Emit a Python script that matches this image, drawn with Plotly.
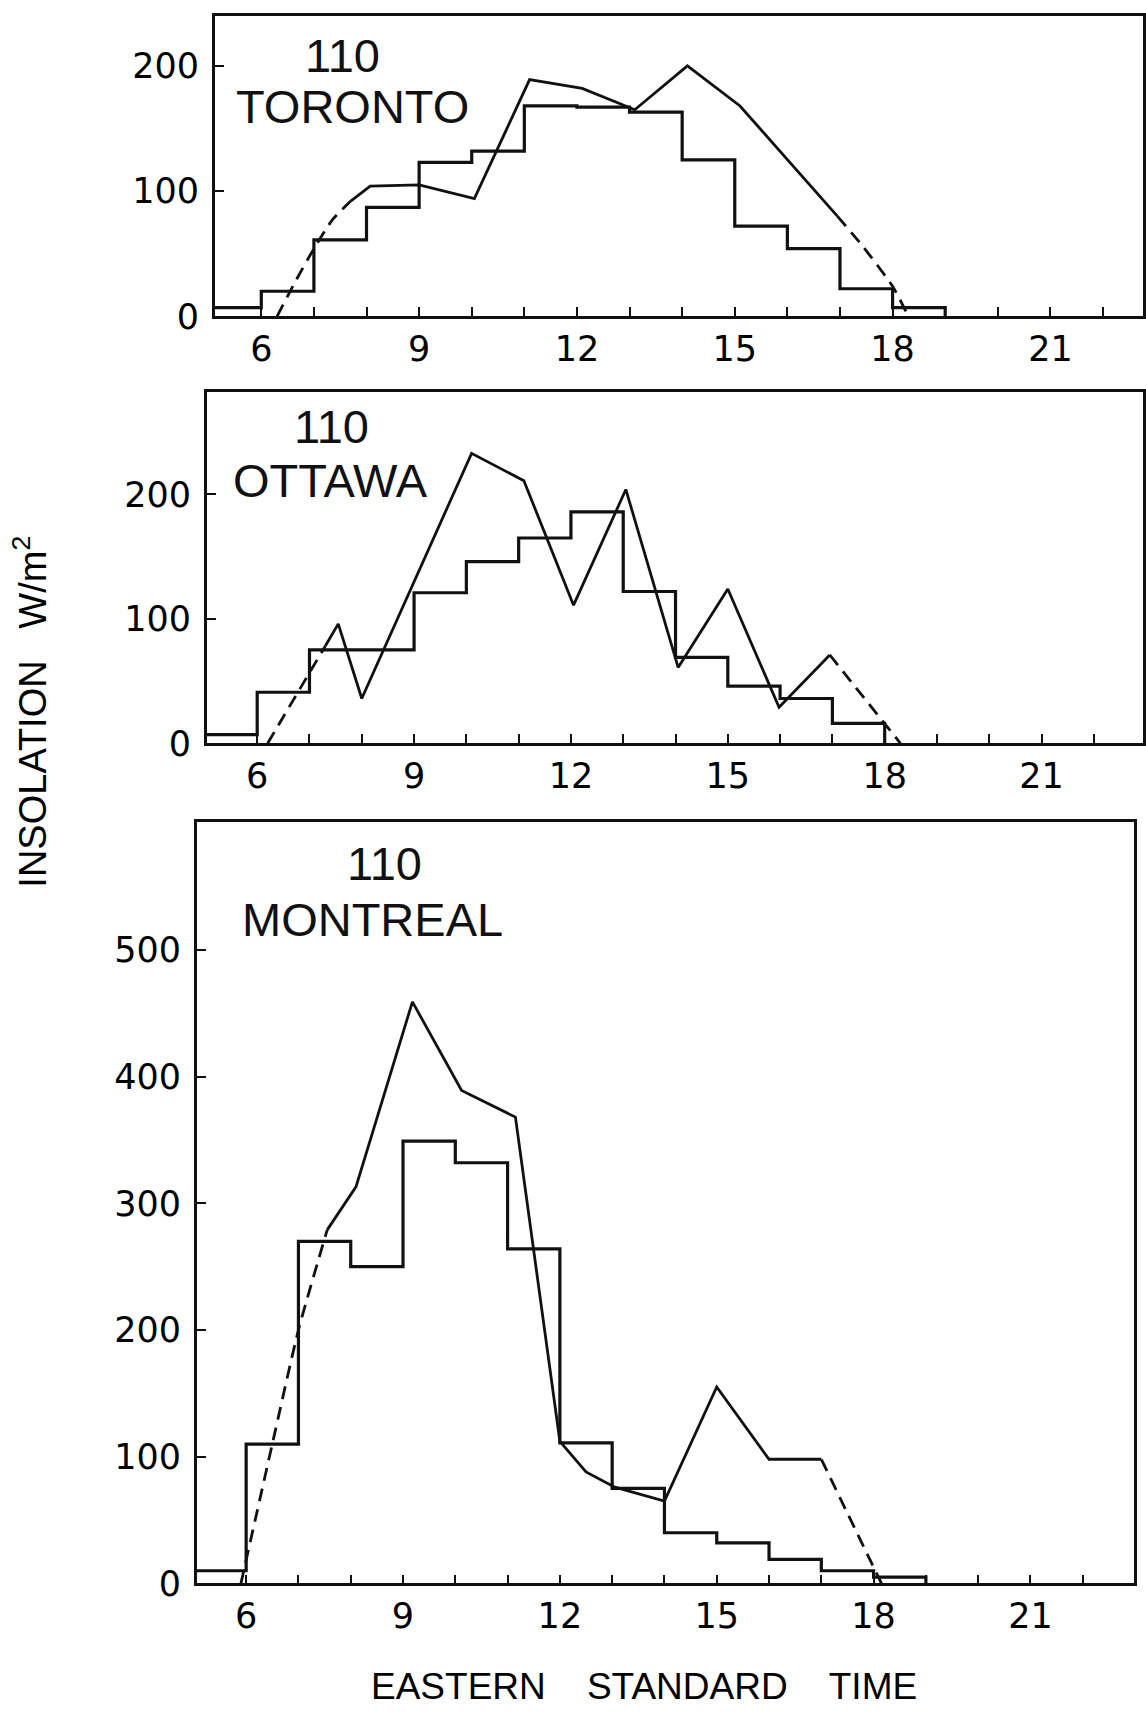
import plotly.graph_objects as go

W, H = 1146, 1727

# ---------------- data ----------------
# hourly (measured) step values: hour start -> W/m2
tor_hours = [5, 6, 7, 8, 9, 10, 11, 12, 13, 14, 15, 16, 17, 18]
tor_steps = [7, 20, 61, 87, 123, 132, 168, 167, 163, 125, 72, 54, 22, 7]
ott_hours = [5, 6, 7, 8, 9, 10, 11, 12, 13, 14, 15, 16, 17]
ott_steps = [7, 41, 75, 75, 121, 146, 165, 186, 122, 69, 46, 36, 16]
mon_hours = [5, 6, 7, 8, 9, 10, 11, 12, 13, 14, 15, 16, 17, 18]
mon_steps = [10, 110, 270, 250, 349, 332, 264, 111, 75, 40, 32, 19, 10, 5]

# modelled curve: dashed start, solid middle, dashed end
tor_dash1_x = [6.3, 6.65, 7.0, 7.35, 7.7]
tor_dash1_y = [0, 28, 54, 77, 92]
tor_line_x = [7.7, 8.07, 9.0, 10.05, 11.1, 12.1, 13.1, 14.1, 15.1, 16.95]
tor_line_y = [92, 104, 105, 94, 189, 182, 165, 200, 168, 80]
tor_dash2_x = [16.95, 17.45, 18.0, 18.3]
tor_dash2_y = [80, 55, 24, 0]

ott_dash1_x = [6.2, 7.3]
ott_dash1_y = [0, 78]
ott_line_x = [7.3, 7.55, 8.0, 10.1, 11.1, 12.05, 13.05, 14.05, 15.0, 15.98, 16.95]
ott_line_y = [78, 96, 36, 233, 211, 111, 204, 61, 124, 29, 71]
ott_dash2_x = [16.95, 18.3]
ott_dash2_y = [71, 0]

mon_dash1_x = [5.9, 6.5, 7.0, 7.55]
mon_dash1_y = [0, 110, 200, 279]
mon_line_x = [7.55, 8.1, 9.18, 10.12, 11.15, 12.0, 12.5, 13.05, 14.0, 15.0, 16.0, 17.0]
mon_line_y = [279, 313, 459, 389, 368, 112, 88, 76, 65, 155, 98, 98]
mon_dash2_x = [17.0, 18.15]
mon_dash2_y = [98, 0]

x_tick_vals = [6, 9, 12, 15, 18, 21]
tor_yticks = [0, 100, 200]
ott_yticks = [0, 100, 200]
mon_yticks = [0, 100, 200, 300, 400, 500]

station_code = "110"
stations = ["TORONTO", "OTTAWA", "MONTREAL"]
y_title = "INSOLATION\u00a0\u00a0\u00a0W/m<sup>2</sup>"
x_title = "EASTERN\u00a0\u00a0\u00a0\u00a0STANDARD\u00a0\u00a0\u00a0\u00a0TIME"

# ---------------- layout geometry (pixels) ----------------
panels = [
    dict(l=215, r=1143, t=16, b=320, xr=[5.12, 22.76], yr=[0, 240]),
    dict(l=207, r=1143, t=397, b=752, xr=[5.04, 22.94], yr=[0, 282]),
    dict(l=197, r=1134, t=832, b=1602, xr=[5.06, 22.98], yr=[0, 600.6]),
]

fig = go.Figure()
LC = "#111111"
step_sets = [(tor_hours, tor_steps), (ott_hours, ott_steps), (mon_hours, mon_steps)]
line_sets = [
    (tor_dash1_x, tor_dash1_y, tor_line_x, tor_line_y, tor_dash2_x, tor_dash2_y),
    (ott_dash1_x, ott_dash1_y, ott_line_x, ott_line_y, ott_dash2_x, ott_dash2_y),
    (mon_dash1_x, mon_dash1_y, mon_line_x, mon_line_y, mon_dash2_x, mon_dash2_y),
]
ytick_sets = [tor_yticks, ott_yticks, mon_yticks]
TICKFONT = dict(family="DejaVu Sans", size=35, color="#000")

for i, p in enumerate(panels):
    xa = "x" if i == 0 else f"x{i+1}"
    ya = "y" if i == 0 else f"y{i+1}"
    hrs, vals = step_sets[i]
    sx = list(hrs) + [hrs[-1] + 1]
    sy = list(vals) + [0]
    fig.add_trace(go.Scatter(x=sx, y=sy, mode="lines", line=dict(shape="hv", color=LC, width=3.2),
                             xaxis=xa, yaxis=ya, showlegend=False))
    d1x, d1y, lx, ly, d2x, d2y = line_sets[i]
    fig.add_trace(go.Scatter(x=d1x, y=d1y, mode="lines",
                             line=dict(color=LC, width=2.8, dash="13px,8px", shape="spline", smoothing=0.6),
                             xaxis=xa, yaxis=ya, showlegend=False))
    fig.add_trace(go.Scatter(x=lx, y=ly, mode="lines", line=dict(color=LC, width=2.8),
                             xaxis=xa, yaxis=ya, showlegend=False))
    fig.add_trace(go.Scatter(x=d2x, y=d2y, mode="lines",
                             line=dict(color=LC, width=2.8, dash="13px,8px", shape="spline", smoothing=0.6),
                             xaxis=xa, yaxis=ya, showlegend=False))

    xkey = "xaxis" if i == 0 else f"xaxis{i+1}"
    ykey = "yaxis" if i == 0 else f"yaxis{i+1}"
    fig.layout[xkey] = dict(
        domain=[p["l"] / W, p["r"] / W], range=p["xr"], anchor=ya,
        tickmode="array", tickvals=x_tick_vals,
        ticks="inside", ticklen=9, tickwidth=2.4, tickcolor=LC,
        minor=dict(ticks="inside", tick0=6, dtick=1, ticklen=9, tickwidth=2.4, tickcolor=LC, showgrid=False),
        showline=True, linecolor=LC, linewidth=2.8, mirror=True,
        showgrid=False, zeroline=False,
        tickfont=TICKFONT,
        ticklabelstandoff=0,
    )
    fig.layout[ykey] = dict(
        domain=[1 - p["b"] / H, 1 - p["t"] / H], range=p["yr"], anchor=xa,
        tickmode="array", tickvals=ytick_sets[i],
        ticks="inside", ticklen=9, tickwidth=2.4, tickcolor=LC,
        showline=True, linecolor=LC, linewidth=2.8, mirror=True,
        showgrid=False, zeroline=False,
        tickfont=TICKFONT,
        ticklabelstandoff=6,
    )

def px(x, y):
    return x / W, 1 - y / H

label_pos = [((343, 56), (352, 108)), ((331, 432), (330, 486)), ((384, 874), (372, 930))]
annotations = []
for (c1, c2), name in zip(label_pos, stations):
    for (cx, cy), txt in ((c1, station_code), (c2, name)):
        ax_, ay_ = px(cx, cy)
        annotations.append(dict(x=ax_, y=ay_, xref="paper", yref="paper", text=txt, showarrow=False,
                                xanchor="center", yanchor="middle",
                                font=dict(family="Liberation Sans", size=47, color="#111")))

ax_, ay_ = px(30, 720)
annotations.append(dict(x=ax_, y=ay_, xref="paper", yref="paper", text=y_title, showarrow=False,
                        textangle=-90, xanchor="center", yanchor="middle",
                        font=dict(family="Liberation Sans", size=38, color="#000")))
ax_, ay_ = px(644, 1706)
annotations.append(dict(x=ax_, y=ay_, xref="paper", yref="paper", text=x_title, showarrow=False,
                        xanchor="center", yanchor="middle",
                        font=dict(family="Liberation Sans", size=37, color="#000")))

fig.update_layout(
    width=W, height=H, margin=dict(l=0, r=0, t=0, b=0),
    paper_bgcolor="white", plot_bgcolor="white",
    annotations=annotations, showlegend=False,
)

fig.write_html("out.html", config={"displayModeBar": False})
